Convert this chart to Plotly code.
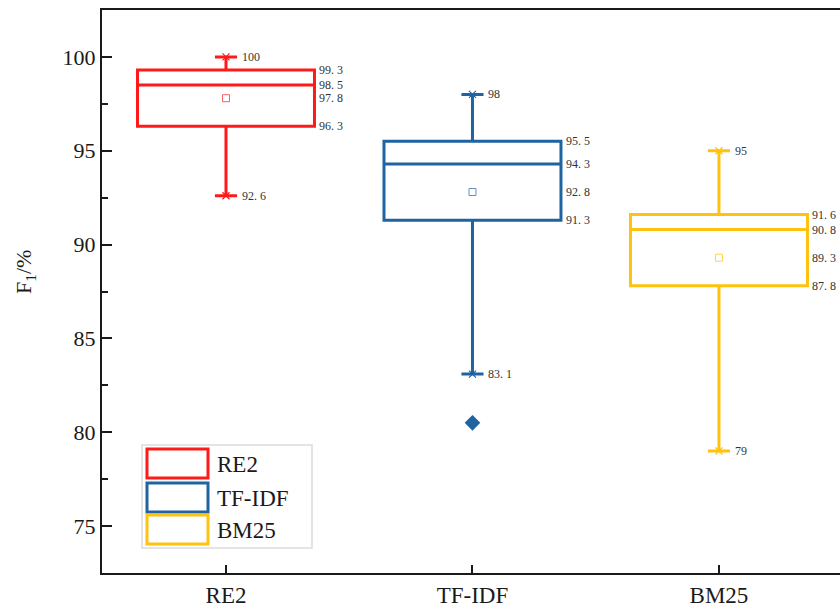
import plotly.graph_objects as go

categories = ["RE2", "TF-IDF", "BM25"]
upper = [100, 98, 95]
q3 = [99.3, 95.5, 91.6]
median = [98.5, 94.3, 90.8]
mean = [97.8, 92.8, 89.3]
q1 = [96.3, 91.3, 87.8]
lower = [92.6, 83.1, 79]
outlier_cat = ["TF-IDF"]
outlier_val = [80.5]
colors = ["#FF1A1A", "#1F63A3", "#FFC20E"]
labels_upper = ["100", "98", "95"]
labels_q3 = ["99. 3", "95. 5", "91. 6"]
labels_med = ["98. 5", "94. 3", "90. 8"]
labels_mean = ["97. 8", "92. 8", "89. 3"]
labels_q1 = ["96. 3", "91. 3", "87. 8"]
labels_lower = ["92. 6", "83. 1", "79"]

FONT = "Liberation Serif, Times New Roman, serif"
BOXW = 0.718
# plot area in pixels
L, R, T, B = 102, 840, 10, 573


def px(xp):
    return (xp - L) / (R - L)


def py(yp):
    return (B - yp) / (B - T)


fig = go.Figure()
for i, c in enumerate(categories):
    fig.add_trace(go.Box(
        x=[i], q1=[q1[i]], median=[median[i]], q3=[q3[i]],
        lowerfence=[lower[i]], upperfence=[upper[i]],
        name=c, width=BOXW, whiskerwidth=0.125,
        line=dict(color=colors[i], width=3), fillcolor="rgba(0,0,0,0)",
        boxpoints=False, hoverinfo="skip", showlegend=False,
    ))
    fig.add_trace(go.Scatter(
        x=[i], y=[mean[i]], mode="markers", showlegend=False,
        marker=dict(symbol="square-open", size=7, color=colors[i], line=dict(width=1)),
        opacity=0.7, hoverinfo="skip"))
    fig.add_trace(go.Scatter(
        x=[i, i], y=[upper[i], lower[i]], mode="markers", showlegend=False,
        marker=dict(symbol="x-thin", size=7, line=dict(color=colors[i], width=1.2)),
        hoverinfo="skip"))
    for val, txt, off in [(upper[i], labels_upper[i], 0.056), (lower[i], labels_lower[i], 0.056),
                          (q3[i], labels_q3[i], BOXW / 2 + 0.012), (median[i], labels_med[i], BOXW / 2 + 0.012),
                          (mean[i], labels_mean[i], BOXW / 2 + 0.012), (q1[i], labels_q1[i], BOXW / 2 + 0.012)]:
        fig.add_annotation(x=i + off, y=val, xref="x", yref="y", text=txt, showarrow=False,
                           xanchor="left", yanchor="middle",
                           font=dict(family=FONT, size=12, color="#333333"))

fig.add_trace(go.Scatter(
    x=[categories.index(c) for c in outlier_cat], y=outlier_val, mode="markers", showlegend=False,
    marker=dict(symbol="diamond", size=12, color=colors[1]), hoverinfo="skip"))

# manual legend (large rectangle icons like the reference)
fig.add_shape(type="rect", xref="paper", yref="paper", x0=px(142), x1=px(312), y0=py(548), y1=py(445),
              line=dict(color="#dcdcdc", width=1.5), fillcolor="white", layer="above")
icon_rows = [(449, 478), (483, 512), (515, 544)]
for i, c in enumerate(categories):
    y0, y1 = icon_rows[i]
    fig.add_shape(type="rect", xref="paper", yref="paper", x0=px(147), x1=px(208), y0=py(y1), y1=py(y0),
                  line=dict(color=colors[i], width=3), fillcolor="white", layer="above")
    fig.add_annotation(x=px(215), y=py((y0 + y1) / 2 + 1), xref="paper", yref="paper", text=c,
                       showarrow=False, xanchor="left", yanchor="middle",
                       font=dict(family=FONT, size=23, color="#1a1a1a"))

# y axis title
fig.add_annotation(x=px(25), y=py(272), xref="paper", yref="paper", text="F<sub>1</sub>/%",
                   showarrow=False, textangle=-90, xanchor="center", yanchor="middle",
                   font=dict(family=FONT, size=22, color="#1a1a1a"))

fig.update_layout(
    width=840, height=607,
    margin=dict(l=L, r=840 - R, t=T, b=607 - B, autoexpand=False),
    paper_bgcolor="white", plot_bgcolor="white",
    font=dict(family=FONT, color="#1a1a1a"),
    showlegend=False,
    xaxis=dict(range=[-0.503, 2.491], tickmode="array", tickvals=[0, 1, 2], ticktext=categories,
               showline=True, linecolor="#1a1a1a", linewidth=2, mirror=True,
               ticks="inside", ticklen=8, tickwidth=2, tickcolor="#1a1a1a",
               showgrid=False, zeroline=False, tickfont=dict(family=FONT, size=23),
               automargin=False),
    yaxis=dict(range=[72.5, 102.5], tickvals=[75, 80, 85, 90, 95, 100],
               showline=True, linecolor="#1a1a1a", linewidth=2, mirror=False,
               ticks="inside", ticklen=10, tickwidth=2, tickcolor="#1a1a1a",
               minor=dict(tickvals=[77.5, 82.5, 87.5, 92.5, 97.5], ticks="inside", ticklen=6,
                          tickwidth=2, tickcolor="#1a1a1a"),
               showgrid=False, zeroline=False, tickfont=dict(family=FONT, size=22),
               automargin=False),
)
fig.write_html("out.html", config={"displayModeBar": False},
               post_script="document.body.style.margin='0';document.body.style.overflow='hidden';")
